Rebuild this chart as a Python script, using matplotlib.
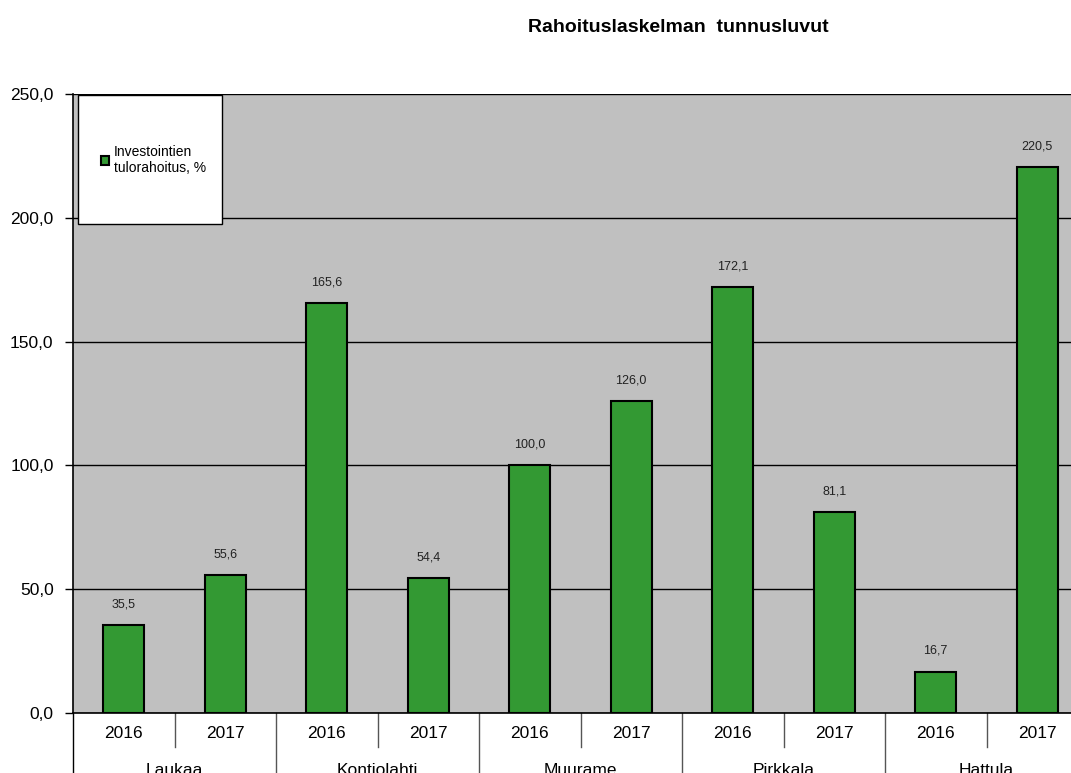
import numpy as np
import matplotlib.pyplot as plt
import matplotlib.transforms as mtransforms
from matplotlib.patches import Rectangle

plt.rcParams['font.family'] = ['Liberation Sans', 'DejaVu Sans']

kunnat = ['Laukaa', 'Kontiolahti', 'Muurame', 'Pirkkala', 'Hattula']
vuodet = ['2016', '2017']
arvot = [35.5, 55.6, 165.6, 54.4, 100.0, 126.0, 172.1, 81.1, 16.7, 220.5]
sarja = 'Investointien\ntulorahoitus, %'

fig = plt.figure(figsize=(10.71, 7.73), dpi=100)
ax = fig.add_axes([73/1071, 1-713/773, 1015/1071, 619/773])
ax.set_facecolor('#C0C0C0')

x = np.arange(len(arvot))
bars = ax.bar(x, arvot, width=0.4, color='#339933', edgecolor='black', linewidth=1.5, zorder=3, label=sarja)
for xi, v in zip(x, arvot):
    ax.annotate(f'{v:.1f}'.replace('.', ','), (xi, v), xytext=(0, 15), textcoords='offset points',
                ha='center', va='center', fontsize=9, color='#222222')

ax.set_xlim(-0.5, len(arvot) - 0.5)
ax.set_ylim(0, 250)
yt = np.arange(0, 251, 50)
ax.set_yticks(yt)
ax.set_yticklabels([f'{t:.1f}'.replace('.', ',') for t in yt], fontsize=12.5)
ax.tick_params(axis='y', length=6, width=1, pad=8)
ax.yaxis.grid(True, color='black', linewidth=1, zorder=1)
ax.set_axisbelow(True)
ax.set_xticks([])
for s in ['top', 'right']:
    ax.spines[s].set_visible(False)
ax.spines['left'].set_linewidth(1.2)
ax.spines['bottom'].set_linewidth(1.2)

# kaksitasoinen x-akseli
tr = mtransforms.blended_transform_factory(ax.transData, ax.transAxes)
for i, xi in enumerate(x):
    ax.text(xi, -0.033, vuodet[i % 2], transform=tr, ha='center', va='center', fontsize=12.5)
for i in range(len(kunnat)):
    ax.plot([2*i + 0.5] * 2, [0, -0.055], transform=tr, color='#555555', linewidth=1, clip_on=False)
    ax.plot([2*i - 0.5] * 2, [0, -0.2], transform=tr, color='#555555' if i else 'black', linewidth=1, clip_on=False)
    ax.text(2*i + 0.5, -0.093, kunnat[i], transform=tr, ha='center', va='center', fontsize=12.5)

# selitelaatikko
ax.add_patch(Rectangle((5/1015, 1-130/619), 144/1015, 129/619, transform=ax.transAxes,
                       facecolor='white', edgecolor='black', linewidth=1, zorder=4))
leg = ax.legend(loc='center left', bbox_to_anchor=(28/1015, 1-66/619), fontsize=10, frameon=False,
                handlelength=0.55, handleheight=0.55, handletextpad=0.35,
                borderpad=0, borderaxespad=0)
leg.set_zorder(5)

fig.text(678/1071, 1-27/773, 'Rahoituslaskelman  tunnusluvut', ha='center', va='center',
         fontsize=14, fontweight='bold')

fig.savefig('out.png', dpi=100)
